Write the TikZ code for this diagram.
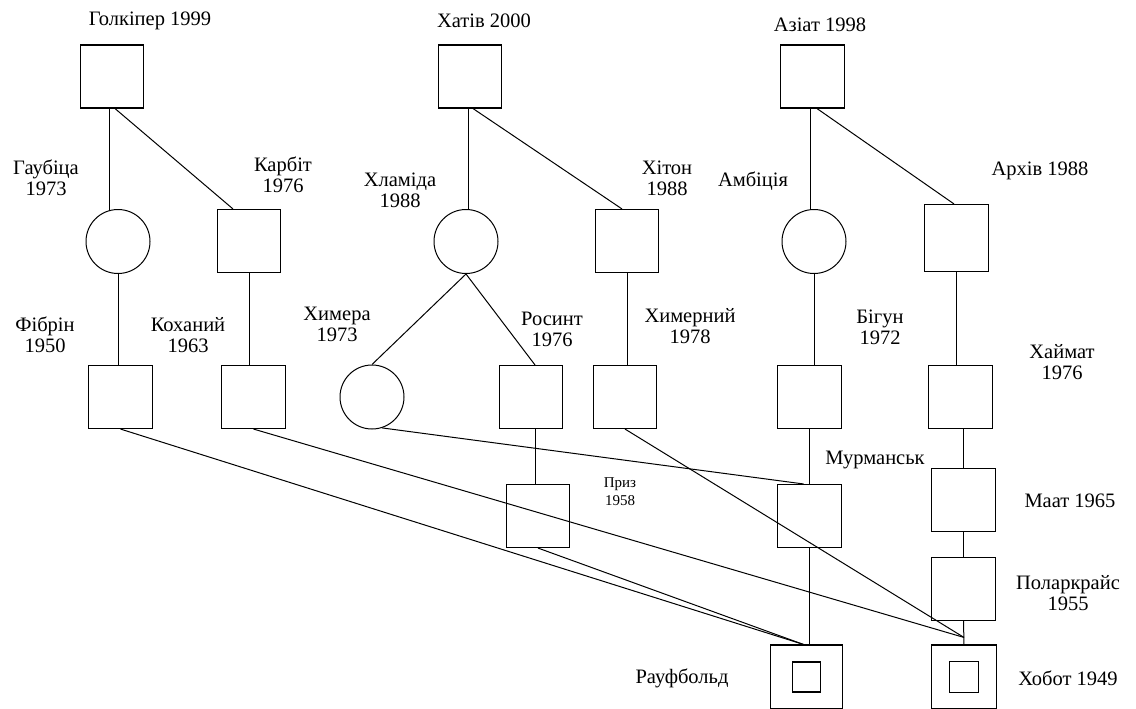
\documentclass[tikz,border=0pt]{standalone}
\usepackage{fontspec}
\setmainfont{Liberation Serif}
\begin{document}
\begin{tikzpicture}[
    x=1pt, y=-1pt,
    every node/.style={font=\fontsize{20.5}{21}\selectfont},
    male/.style={rectangle, draw, line width=1.1pt, minimum width=63.5pt, minimum height=63pt, inner sep=0pt},
    female/.style={circle, draw, line width=1pt, minimum size=64pt, inner sep=0pt},
    lbl/.style={align=center, inner sep=0pt},
    link/.style={line width=1pt},
]
\useasboundingbox (0,0) rectangle (1136,709);
\node[male] (golk) at (112,76.5) {};
\node[male] (khat) at (470,76.5) {};
\node[male] (aziat) at (812.5,76.5) {};
\node[female] (gaub) at (118,241.5) {};
\node[male] (karbit) at (249,241) {};
\node[female] (khlam) at (466,241.5) {};
\node[male] (khiton) at (627,241) {};
\node[female] (ambic) at (814,241.5) {};
\node[male, minimum height=67pt] (arkhiv) at (956.5,238) {};
\node[male] (fibr) at (120.5,397) {};
\node[male] (kokh) at (253.5,397) {};
\node[female] (chim) at (372,397) {};
\node[male] (rosynt) at (531,397) {};
\node[male] (khimer) at (625,397) {};
\node[male] (bigun) at (809.5,397) {};
\node[male] (khaym) at (960.5,397) {};
\node[male] (pryz) at (538,516) {};
\node[male] (murm) at (809.5,516) {};
\node[male] (maat) at (963.5,500) {};
\node[male] (polar) at (963.5,589) {};
\node[male, minimum width=72pt, minimum height=64pt] (rauf) at (806.5,677) {};
\node[male, minimum width=28pt, minimum height=30pt] (raufin) at (rauf.center) {};
\node[male, minimum width=65pt, minimum height=64pt] (khobot) at (964,677) {};
\node[male, minimum width=29pt, minimum height=31pt] (khobotin) at (khobot.center) {};
\node[lbl] (golkL) at (150,21) {Голкіпер 1999};
\node[lbl] (khatL) at (484,21) {Хатів 2000};
\node[lbl] (aziatL) at (820,25) {Азіат 1998};
\node[lbl] (gaubL) at (46,178) {Гаубіца\\1973};
\node[lbl] (karbitL) at (283,175) {Карбіт\\1976};
\node[lbl] (khlamL) at (400,190) {Хламіда\\1988};
\node[lbl] (khitonL) at (667,178) {Хітон\\1988};
\node[lbl] (ambicL) at (753,181) {Амбіція};
\node[lbl] (arkhivL) at (1040,171) {Архів 1988};
\node[lbl] (fibrL) at (45,335) {Фібрін\\1950};
\node[lbl] (kokhL) at (188,335) {Коханий\\1963};
\node[lbl] (chimL) at (337,324) {Химера\\1973};
\node[lbl] (rosyntL) at (552,329) {Росинт\\1976};
\node[lbl] (khimerL) at (690,326) {Химерний\\1978};
\node[lbl] (bigunL) at (880,327) {Бігун\\1972};
\node[lbl] (khaymL) at (1062,362) {Хаймат\\1976};
\node[lbl, font=\fontsize{15}{18}\selectfont] (pryzL) at (620,492) {Приз\\1958};
\node[lbl] (murmL) at (875,460) {Мурманськ};
\node[lbl] (maatL) at (1070,501) {Маат 1965};
\node[lbl] (polarL) at (1068,593) {Поларкрайс\\1955};
\node[lbl] (raufL) at (682,678) {Рауфбольд};
\node[lbl] (khobotL) at (1068,678) {Хобот 1949};
\draw[link] (gaub.106) -- (gaub.106 |- golk.south);
\draw[link] ([xshift=3pt]golk.south) -- ([xshift=-16pt]karbit.north);
\draw[link] (khlam.85) -- (khlam.85 |- khat.south);
\draw[link] ([xshift=3pt]khat.south) -- ([xshift=-5pt]khiton.north);
\draw[link] (ambic.97) -- (ambic.97 |- aziat.south);
\draw[link] ([xshift=4.5pt]aziat.south) -- ([xshift=-2.5pt]arkhiv.north);
\draw[link] (gaub.south) -- (gaub.south |- fibr.north);
\draw[link] (karbit.south) -- (karbit.south |- kokh.north);
\draw[link] (khlam.south) -- (chim.north);
\draw[link] (khlam.south) -- ([xshift=4pt]rosynt.north);
\draw[link] (khiton.south) -- (khiton.south |- khimer.north);
\draw[link] (ambic.south) -- (ambic.south |- bigun.north);
\draw[link] (arkhiv.south) -- (arkhiv.south |- khaym.north);
\draw[link] ([xshift=4pt]rosynt.south) -- ([xshift=4pt]rosynt.south |- pryz.north);
\draw[link] (bigun.south) -- (murm.north);
\draw[link] (maat.north |- khaym.south) -- (maat.north);
\draw[link] (maat.south) -- (polar.north);
\draw[link] (polar.south) -- (khobot.north);
\draw[link] (murm.south) -- (murm.south |- rauf.north);
\draw[link] (fibr.south) -- ([xshift=-3pt]rauf.north);
\draw[link] (pryz.south) -- ([xshift=-3pt]rauf.north);
\draw[link] (kokh.south) -- ([yshift=7pt]khobot.north);
\draw[link] (khimer.south) -- ([yshift=7pt]khobot.north);
\draw[link] (chim.-72) -- ([xshift=-6pt]murm.north);
\end{tikzpicture}
\end{document}
